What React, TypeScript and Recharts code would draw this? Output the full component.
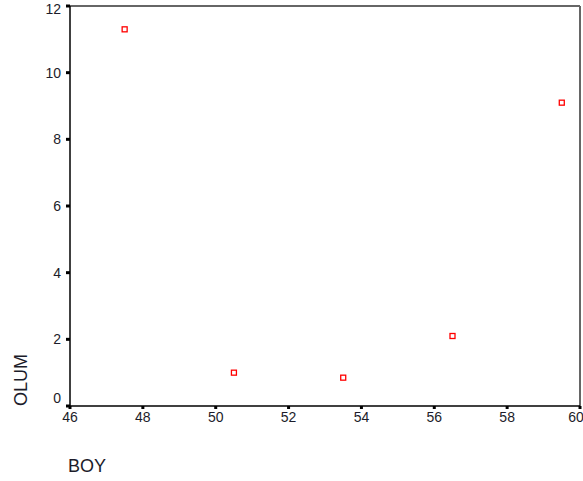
import React from "react";
import {
  ScatterChart,
  Scatter,
  XAxis,
  YAxis,
  ReferenceLine,
} from "recharts";

// BOY (x) vs OLUM (y)
const boy = [47.5, 50.5, 53.5, 56.5, 59.5];
const olum = [11.3, 1.0, 0.85, 2.1, 9.1];
const xTicks = [46, 48, 50, 52, 54, 56, 58, 60];
const yTicks = [0, 2, 4, 6, 8, 10, 12];

const points = boy.map((b, i) => ({ boy: b, olum: olum[i] }));

const font = "'Liberation Sans', Arial, sans-serif";
const ink = "#1c1c2a";

const Square = (props: any) => {
  const { cx, cy } = props;
  return (
    <rect
      x={cx - 2.5}
      y={cy - 2.5}
      width={5}
      height={5}
      fill="#fff"
      stroke="#ff0000"
      strokeWidth={1.3}
    />
  );
};

const YTick = (props: any) => {
  const { x, y, payload } = props;
  const shift = payload.value === 0 ? -8 : 0;
  return (
    <text
      x={x}
      y={y + shift}
      dy="0.355em"
      textAnchor="end"
      fontSize={14}
      fontFamily={font}
      fill={ink}
    >
      {payload.value}
    </text>
  );
};

export default function App() {
  return (
    <div style={{ position: "absolute", left: 0, top: 0, background: "#fff" }}>
      <ScatterChart
        width={583}
        height={481}
        margin={{ top: 6, right: 3, bottom: 0, left: 0 }}
      >
        <XAxis
          type="number"
          dataKey="boy"
          domain={[46, 60]}
          ticks={xTicks}
          allowDataOverflow
          height={75}
          axisLine={{ stroke: "#000", strokeWidth: 1.5 }}
          tickLine={{ stroke: "#000", strokeWidth: 3 }}
          tickSize={3}
          tickMargin={3}
          tick={{ fontSize: 14, fontFamily: font, fill: ink }}
          label={{
            content: ({ viewBox }: any) => (
              <text
                x={viewBox.x - 2}
                y={viewBox.y + 66}
                fontSize={18}
                fontFamily={font}
                fill={ink}
              >
                BOY
              </text>
            ),
          }}
        />
        <YAxis
          type="number"
          dataKey="olum"
          domain={[0, 12]}
          ticks={yTicks}
          allowDataOverflow
          width={70}
          axisLine={{ stroke: "#000", strokeWidth: 1.5 }}
          tickLine={{ stroke: "#000", strokeWidth: 3 }}
          tickSize={4}
          tickMargin={5}
          tick={<YTick />}
          label={{
            content: () => (
              <text
                x={27}
                y={406}
                transform="rotate(-90 27 406)"
                fontSize={18}
                fontFamily={font}
                fill={ink}
              >
                OLUM
              </text>
            ),
          }}
        />
        <ReferenceLine y={12} stroke="#666" strokeWidth={2} />
        <ReferenceLine x={60} stroke="#666" strokeWidth={2} />
        <Scatter
          data={points}
          shape={<Square />}
          isAnimationActive={false}
        />
      </ScatterChart>
    </div>
  );
}
